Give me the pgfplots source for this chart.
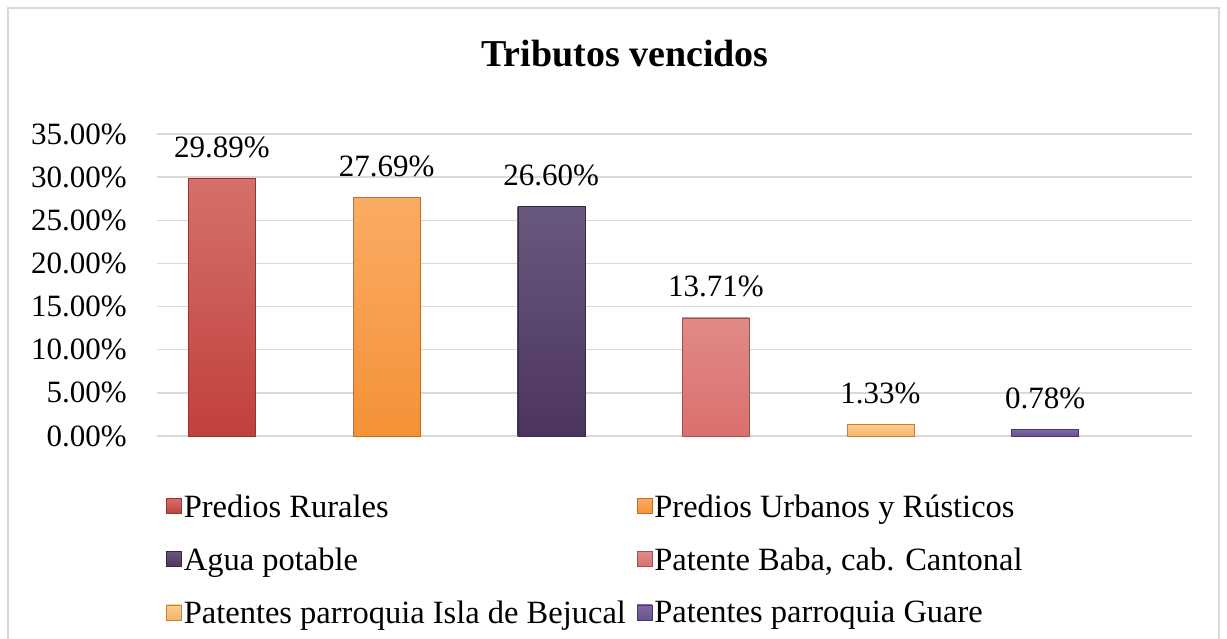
\documentclass[border=0pt]{standalone}
\usepackage{pgfplots}
\pgfplotsset{compat=1.18}
\usepackage{fontspec}
\setmainfont{Liberation Serif}
\definecolor{c1t}{RGB}{214,112,106}\definecolor{c1b}{RGB}{192,64,60}\definecolor{c1d}{RGB}{150,50,48}
\definecolor{c2t}{RGB}{250,172,100}\definecolor{c2b}{RGB}{245,145,55}\definecolor{c2d}{RGB}{190,110,40}
\definecolor{c3t}{RGB}{105,88,125}\definecolor{c3b}{RGB}{76,52,96}\definecolor{c3d}{RGB}{55,40,70}
\definecolor{c4t}{RGB}{224,138,135}\definecolor{c4b}{RGB}{218,112,110}\definecolor{c4d}{RGB}{160,80,78}
\definecolor{c5t}{RGB}{250,205,140}\definecolor{c5b}{RGB}{245,180,110}\definecolor{c5d}{RGB}{190,130,70}
\definecolor{c6t}{RGB}{130,105,165}\definecolor{c6b}{RGB}{105,80,145}\definecolor{c6d}{RGB}{75,55,105}
\definecolor{gridc}{RGB}{217,217,217}
\begin{document}
\begin{tikzpicture}
\useasboundingbox (0,0) rectangle (1227pt,638pt);
\fill[white] (0,0) rectangle (1227pt,638pt);
\draw[gridc, line width=2pt] (8pt,-5pt) -- (8pt,630pt) -- (1219pt,630pt) -- (1219pt,-5pt);
\node[font=\bfseries\fontsize{38}{44}\selectfont, anchor=base] at (625pt,571pt) {Tributos vencidos};
\begin{axis}[
  at={(157pt,202pt)}, anchor=south west,
  width=1035pt, height=302pt, scale only axis,
  xmin=-0.395, xmax=5.893, ymin=0, ymax=35,
  ybar, bar width=67pt, bar shift=0pt,
  axis line style={draw=none},
  xtick=\empty,
  ytick={0,5,10,15,20,25,30,35},
  yticklabels={0.00\%,5.00\%,10.00\%,15.00\%,20.00\%,25.00\%,30.00\%,35.00\%},
  major tick length=0pt,
  ymajorgrids, grid style={draw=gridc, line width=1.5pt},
  yticklabel style={font=\fontsize{31}{36}\selectfont, anchor=east, inner sep=0pt, xshift=-30pt},
  clip=false,
  every node near coord/.append style={font=\fontsize{31}{36}\selectfont, anchor=base, inner sep=0pt, yshift=21pt, text=black},
  legend columns=2,
  legend cell align=left,
  legend style={draw=none, fill=none, at={(0.006,-0.18)}, anchor=north west,
    font=\fontsize{32.5}{38}\selectfont, row sep=25pt,
    /tikz/every even column/.append style={column sep=9pt}},
  legend image code/.code={\path[#1] (0pt,-7pt) rectangle (15pt,8pt);},
]
\addplot[draw=c1d, top color=c1t, bottom color=c1b, nodes near coords={29.89\%}] coordinates {(0,29.89)};
\addlegendentry{Predios Rurales}
\addplot[draw=c2d, top color=c2t, bottom color=c2b, nodes near coords={27.69\%}] coordinates {(1,27.69)};
\addlegendentry{Predios Urbanos y Rústicos}
\addplot[draw=c3d, top color=c3t, bottom color=c3b, nodes near coords={26.60\%}] coordinates {(2,26.60)};
\addlegendentry{Agua potable}
\addplot[draw=c4d, top color=c4t, bottom color=c4b, nodes near coords={13.71\%}] coordinates {(3,13.71)};
\addlegendentry{Patente Baba, cab. Cantonal}
\addplot[draw=c5d, top color=c5t, bottom color=c5b, nodes near coords={1.33\%}] coordinates {(4,1.33)};
\addlegendentry{Patentes parroquia Isla de Bejucal}
\addplot[draw=c6d, top color=c6t, bottom color=c6b, nodes near coords={0.78\%}] coordinates {(5,0.78)};
\addlegendentry{Patentes parroquia Guare}
\end{axis}
\end{tikzpicture}
\end{document}
